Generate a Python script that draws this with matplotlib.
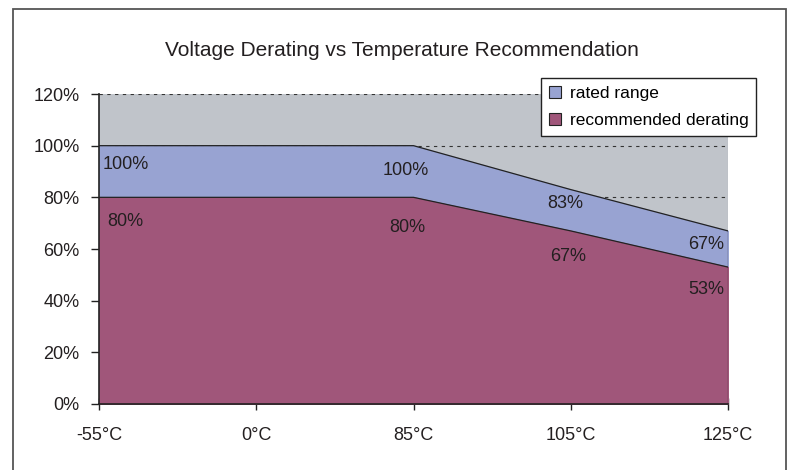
import matplotlib.pyplot as plt
from matplotlib.patches import Rectangle
from matplotlib.ticker import FuncFormatter

plt.rcParams['font.family'] = ['Liberation Sans', 'DejaVu Sans']

temps = ['-55°C', '0°C', '85°C', '105°C', '125°C']
rated = [100, 100, 100, 83, 67]
derating = [80, 80, 80, 67, 53]

txt = '#231f20'
fig = plt.figure(figsize=(7.88, 4.70), dpi=100)
ax = fig.add_axes([99/788, 1-404/470, (728-99)/788, (404-94)/470])

# outer frame
fig.patches.append(Rectangle((12.5/788, -0.02), (786-12.5)/788, 1.02-9.5/470,
                             transform=fig.transFigure, fill=False,
                             edgecolor='#555555', lw=1.3))

ax.set_facecolor('#c0c4ca')
x = list(range(len(temps)))
ax.fill_between(x, rated, color='#98a3d2', zorder=2, label='rated range')
ax.fill_between(x, derating, color='#a0567a', zorder=3, label='recommended derating')
ax.plot(x, rated, color='#222222', lw=0.9, zorder=4)
ax.plot(x, derating, color='#222222', lw=0.9, zorder=4)
ax.plot([4, 4], [0, rated[-1]], color='#222222', lw=0.9, zorder=4)

for y in range(20, 121, 20):
    ax.axhline(y, color='#333333', lw=0.8, ls=(0, (3, 4)), zorder=1)

# data labels
dx = [4, 0, -8, -5, -4]
dy_r = [-19, 0, -25, -14, -14]
dy_d = [-24, 0, -30, -26, -22]
for i in x:
    if i == 1:
        continue
    ha = 'left' if i == 0 else ('right' if i == 4 else 'center')
    ax.annotate(f'{rated[i]}%', (i, rated[i]), xytext=(dx[i], dy_r[i]),
                textcoords='offset pixels', ha=ha, va='center',
                fontsize=13, color=txt, zorder=5)
    ax.annotate(f'{derating[i]}%', (i, derating[i]), xytext=(dx[i] + (4 if i == 0 else 2) - (2 if i == 4 else 0), dy_d[i]),
                textcoords='offset pixels', ha=ha, va='center',
                fontsize=13, color=txt, zorder=5)

ax.set_xlim(0, 4)
ax.set_ylim(0, 120)
ax.set_xticks(x)
ax.set_xticklabels(temps)
ax.set_yticks(range(0, 121, 20))
ax.yaxis.set_major_formatter(FuncFormatter(lambda v, p: f'{int(v)}%'))
ax.tick_params(axis='x', direction='inout', length=9, width=1, colors='#222222',
               labelcolor=txt, labelsize=13, pad=12)
ax.tick_params(axis='y', direction='out', length=6, width=1, colors='#222222',
               labelcolor=txt, labelsize=13, pad=8)
for s in ['top', 'right']:
    ax.spines[s].set_visible(False)
for s in ['left', 'bottom']:
    ax.spines[s].set_color('#222222')
    ax.spines[s].set_linewidth(1.2)
    ax.spines[s].set_zorder(6)
ax.axvline(4, color='#a9abae', lw=0.8, zorder=1)

fig.text(402/788, 1-51/470, 'Voltage Derating vs Temperature Recommendation',
         ha='center', va='center', fontsize=15, color=txt)

h, l = ax.get_legend_handles_labels()
leg = fig.legend(h, l, loc='upper left', bbox_to_anchor=(541/788, 1-78/470),
                 frameon=True, fancybox=False, edgecolor='#222222', framealpha=1,
                 fontsize=12.5, handlelength=0.7, handleheight=0.7,
                 handletextpad=0.5, borderpad=0.45, labelspacing=0.7,
                 borderaxespad=0)
leg.get_frame().set_linewidth(1.0)
for p in leg.get_patches():
    p.set_edgecolor('#222222')
    p.set_linewidth(0.8)

fig.savefig('out.png', dpi=100)
